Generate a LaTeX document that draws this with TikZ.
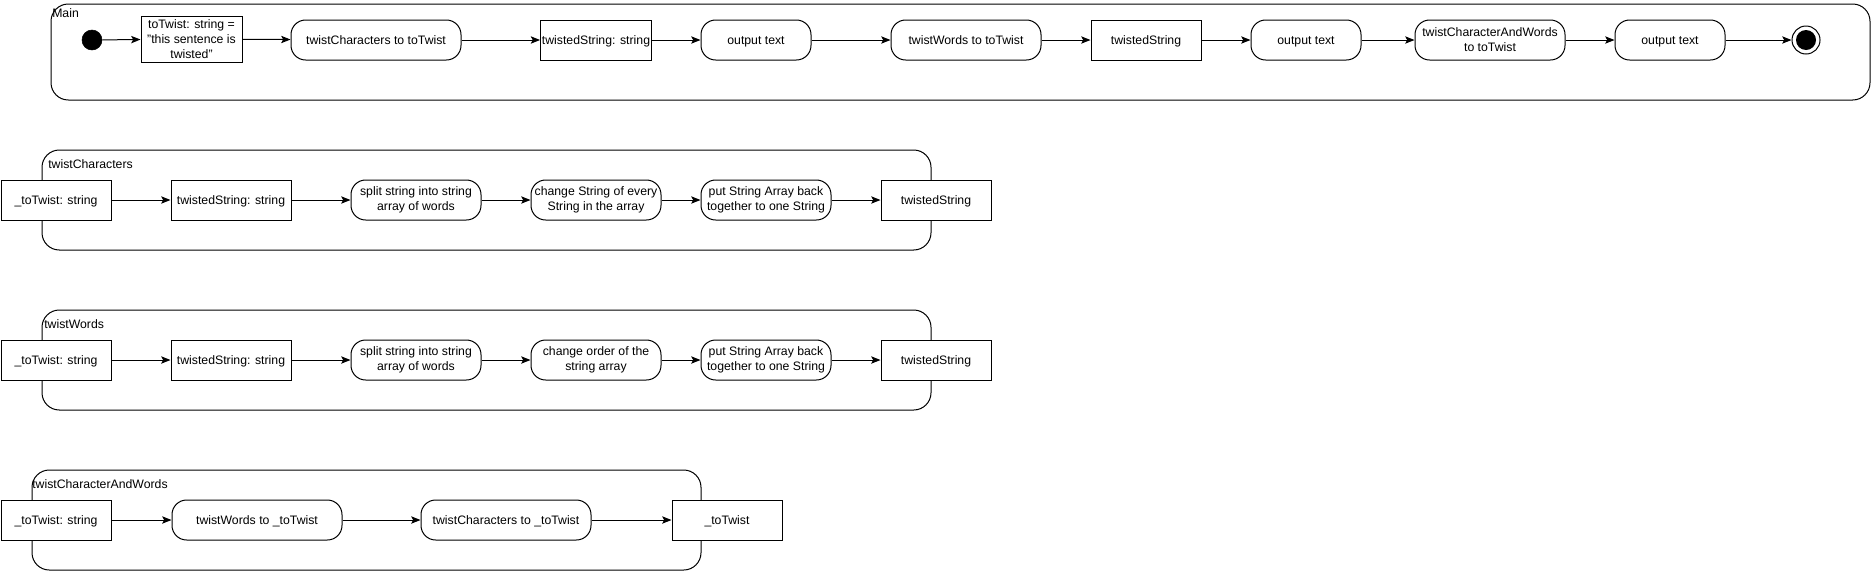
\documentclass[tikz,border=0pt]{standalone}
\usepackage{fontspec}
\setmainfont{Liberation Sans}
\usetikzlibrary{arrows.meta}
\begin{document}
\begin{tikzpicture}[x=0.75pt,y=-0.75pt,
  every node/.style={font=\fontsize{9.2}{11.2}\selectfont},
  box/.style={draw, fill=white, line width=0.75pt, align=center, inner sep=1pt, minimum height=30pt},
  oneline/.style={text height=6.6pt, text depth=0pt},
  rbox/.style={box, rounded corners=11pt},
  cont/.style={draw, line width=0.75pt, rounded corners=13pt},
  arr/.style={line width=0.75pt, -{Stealth[length=7pt,width=5.5pt,inset=1.5pt]}},
  lbl/.style={anchor=west, inner sep=0pt}
]
\useasboundingbox (0,0) rectangle (1872,572);

% ---------- Main ----------
\draw[cont] (51,4) rectangle (1870,100);
\node[lbl] (lmain) at (52,13) {Main};
\node[circle, fill=black, draw, inner sep=0pt, minimum size=15pt] (start) at (92,40) {};
\node[box, minimum width=101*0.75pt, minimum height=46*0.75pt] (m1) at (191.5,39) {toTwist: string =\\"this sentence is\\twisted"};
\node[rbox, oneline, minimum width=170*0.75pt] (m2) at (376,40) {twistCharacters to toTwist};
\node[box, oneline, minimum width=110*0.75pt] (m3) at (596,40) {twistedString: string};
\node[rbox, oneline, minimum width=110*0.75pt] (m4) at (756,40) {output text};
\node[rbox, oneline, minimum width=150*0.75pt] (m5) at (966,40) {twistWords to toTwist};
\node[box, oneline, minimum width=110*0.75pt] (m6) at (1146,40) {twistedString};
\node[rbox, oneline, minimum width=110*0.75pt] (m7) at (1306,40) {output text};
\node[rbox, minimum width=150*0.75pt] (m8) at (1490,40) {twistCharacterAndWords\\to toTwist};
\node[rbox, oneline, minimum width=110*0.75pt] (m9) at (1670,40) {output text};
\node[circle, draw, fill=white, line width=0.75pt, inner sep=0pt, minimum size=21pt] (end) at (1806,40) {};
\node[circle, fill=black, inner sep=0pt, minimum size=15pt] (endin) at (end) {};
\draw[arr] (start) -- (m1);
\draw[arr] (m1) -- (m2);
\draw[arr] (m2) -- (m3);
\draw[arr] (m3) -- (m4);
\draw[arr] (m4) -- (m5);
\draw[arr] (m5) -- (m6);
\draw[arr] (m6) -- (m7);
\draw[arr] (m7) -- (m8);
\draw[arr] (m8) -- (m9);
\draw[arr] (m9) -- (end);

% ---------- twistCharacters ----------
\draw[cont] (42,150) rectangle (931,250);
\node[lbl] (lc) at (48,164) {twistCharacters};
\node[box, oneline, minimum width=110*0.75pt] (a1) at (56,200) {\_toTwist: string};
\node[box, oneline, minimum width=120*0.75pt] (a2) at (231,200) {twistedString: string};
\node[rbox, minimum width=130*0.75pt] (a3) at (416,200) {split string into string\\array of words};
\node[rbox, minimum width=130*0.75pt] (a4) at (596,200) {change String of every\\String in the array};
\node[rbox, minimum width=130*0.75pt] (a5) at (766,200) {put String Array back\\together to one String};
\node[box, oneline, minimum width=110*0.75pt] (a6) at (936,200) {twistedString};
\draw[arr] (a1) -- (a2);
\draw[arr] (a2) -- (a3);
\draw[arr] (a3) -- (a4);
\draw[arr] (a4) -- (a5);
\draw[arr] (a5) -- (a6);

% ---------- twistWords ----------
\draw[cont] (42,310) rectangle (931,410);
\node[lbl] (lw) at (44,324) {twistWords};
\node[box, oneline, minimum width=110*0.75pt] (b1) at (56,360) {\_toTwist: string};
\node[box, oneline, minimum width=120*0.75pt] (b2) at (231,360) {twistedString: string};
\node[rbox, minimum width=130*0.75pt] (b3) at (416,360) {split string into string\\array of words};
\node[rbox, minimum width=130*0.75pt] (b4) at (596,360) {change order of the\\string array};
\node[rbox, minimum width=130*0.75pt] (b5) at (766,360) {put String Array back\\together to one String};
\node[box, oneline, minimum width=110*0.75pt] (b6) at (936,360) {twistedString};
\draw[arr] (b1) -- (b2);
\draw[arr] (b2) -- (b3);
\draw[arr] (b3) -- (b4);
\draw[arr] (b4) -- (b5);
\draw[arr] (b5) -- (b6);

% ---------- twistCharacterAndWords ----------
\draw[cont] (32,470) rectangle (701,570);
\node[lbl] (lcw) at (32,484) {twistCharacterAndWords};
\node[box, oneline, minimum width=110*0.75pt] (c1) at (56,520) {\_toTwist: string};
\node[rbox, oneline, minimum width=170*0.75pt] (c2) at (257,520) {twistWords to \_toTwist};
\node[rbox, oneline, minimum width=170*0.75pt] (c3) at (506,520) {twistCharacters to \_toTwist};
\node[box, oneline, minimum width=110*0.75pt] (c4) at (727,520) {\_toTwist};
\draw[arr] (c1) -- (c2);
\draw[arr] (c2) -- (c3);
\draw[arr] (c3) -- (c4);
\end{tikzpicture}
\end{document}
